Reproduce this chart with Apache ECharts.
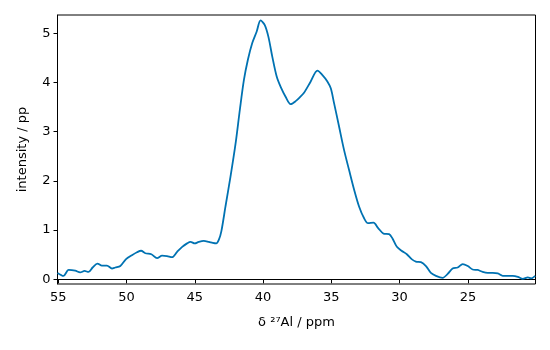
<!DOCTYPE html>
<html>
<head>
<meta charset="utf-8">
<script src="https://cdn.jsdelivr.net/npm/echarts@6/dist/echarts.min.js"></script>
<style>
  html, body { margin: 0; padding: 0; background: #fff; }
  #main { width: 550px; height: 350px; }
</style>
</head>
<body>
<div id="main"></div>
<script>
// chemical shift (ppm) and intensity
var shift = [
  55.05, 54.61, 54.24, 53.75, 53.39, 53.07, 52.78, 52.48, 52.12, 51.8, 51.43,
  51.06, 50.82, 50.45, 50.03, 49.6, 49.23, 48.93, 48.62, 48.18, 47.76, 47.39,
  47.03, 46.66, 46.29, 45.92, 45.56, 45.31, 45.0, 44.71, 44.34, 43.97, 43.68,
  43.43, 43.24, 43.05, 42.75, 42.38, 42.01, 41.7, 41.4, 41.11, 40.79, 40.47,
  40.18, 39.88, 39.61, 39.32, 39.0, 38.71, 38.35, 37.98, 37.61, 37.3, 37.0,
  36.51, 36.02, 35.65, 35.29, 35.04, 34.8, 34.43, 34.07, 33.7, 33.33, 32.97,
  32.6, 32.31, 31.91, 31.57, 31.18, 30.77, 30.52, 30.2, 29.86, 29.47, 29.12,
  28.81, 28.44, 28.07, 27.71, 27.34, 26.85, 26.48, 26.12, 25.75, 25.38, 25.01,
  24.65, 24.28, 23.92, 23.55, 23.18, 22.81, 22.45, 22.08, 21.71, 21.34, 20.98,
  20.61, 20.37, 20.07
];
var intensity = [
  0.13, 0.07, 0.19, 0.175, 0.14, 0.17, 0.15, 0.24, 0.32, 0.28, 0.28,
  0.22, 0.24, 0.27, 0.41, 0.49, 0.55, 0.58, 0.53, 0.51, 0.43, 0.48,
  0.47, 0.45, 0.56, 0.66, 0.73, 0.76, 0.73, 0.76, 0.78, 0.76, 0.74,
  0.73, 0.80, 0.98, 1.48, 2.09, 2.76, 3.44, 4.05, 4.46, 4.80, 5.03,
  5.26, 5.17, 4.93, 4.52, 4.12, 3.91, 3.71, 3.56, 3.62, 3.70, 3.79,
  4.02, 4.24, 4.15, 4.02, 3.88, 3.58, 3.10, 2.63, 2.22, 1.82, 1.48,
  1.24, 1.14, 1.15, 1.04, 0.93, 0.92, 0.83, 0.66, 0.58, 0.51, 0.41,
  0.36, 0.35, 0.27, 0.13, 0.07, 0.03, 0.11, 0.22, 0.24, 0.31, 0.27,
  0.20, 0.19, 0.15, 0.13, 0.13, 0.12, 0.07, 0.07, 0.07, 0.05, 0.01,
  0.04, 0.02, 0.07
];
var xTicks = [55, 50, 45, 40, 35, 30, 25];
var yTicks = [0, 1, 2, 3, 4, 5];

var chartDom = document.getElementById('main');
var myChart = echarts.init(chartDom);
var option;

var points = shift.map(function (s, i) {
  return [s, intensity[i]];
});

option = {
  animation: false,
  grid: {
    left: 57.5,
    right: 14.5,
    top: 15,
    bottom: 66,
    show: true,
    borderColor: '#000',
    borderWidth: 1
  },
  xAxis: {
    type: 'value',
    inverse: true,
    min: 20.05,
    max: 55.05,
    name: 'δ ²⁷Al / ppm',
    nameLocation: 'middle',
    nameGap: 32,
    nameTextStyle: { color: '#000', fontSize: 13, fontFamily: 'DejaVu Sans' },
    axisLine: { show: true, lineStyle: { color: '#000', width: 1 } },
    axisTick: { show: true, length: 4, customValues: xTicks, lineStyle: { color: '#000' } },
    axisLabel: {
      customValues: xTicks,
      color: '#000',
      fontSize: 13,
      fontFamily: 'DejaVu Sans',
      margin: 7
    },
    splitLine: { show: false }
  },
  yAxis: {
    type: 'value',
    min: -0.095,
    max: 5.37,
    name: 'intensity / pp',
    nameLocation: 'middle',
    nameGap: 28,
    nameTextStyle: { color: '#000', fontSize: 13, fontFamily: 'DejaVu Sans' },
    axisLine: { show: true, lineStyle: { color: '#000', width: 1 } },
    axisTick: { show: true, length: 4, customValues: yTicks, lineStyle: { color: '#000' } },
    axisLabel: {
      customValues: yTicks,
      color: '#000',
      fontSize: 13,
      fontFamily: 'DejaVu Sans',
      margin: 7
    },
    splitLine: { show: false }
  },
  series: [
    {
      type: 'line',
      data: points,
      smooth: 0.3,
      showSymbol: false,
      lineStyle: { color: '#0072B2', width: 1.8 },
      itemStyle: { color: '#0072B2' }
    }
  ]
};

option && myChart.setOption(option);
</script>
</body>
</html>
